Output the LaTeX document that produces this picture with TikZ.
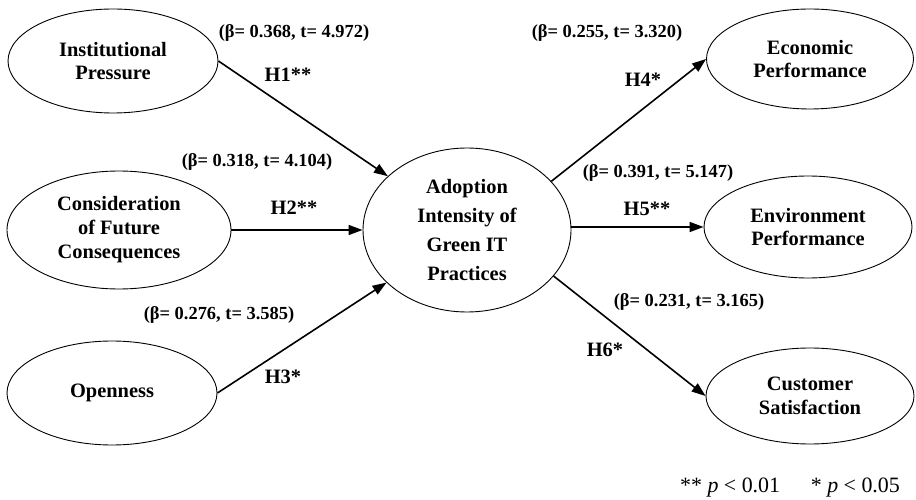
\documentclass[tikz,border=0pt]{standalone}
\usepackage{fontspec}
\setmainfont{Liberation Serif}
\usetikzlibrary{shapes.geometric,arrows.meta}
\begin{document}
\begin{tikzpicture}[x=1bp,y=-1bp,
  oval/.style={ellipse, draw, line width=0.9bp, inner sep=0pt, align=center,
    font=\bfseries\fontsize{20.5}{24}\selectfont},
  arr/.style={line width=1.6bp, -{Triangle[length=14bp,width=10bp]}},
  lab/.style={font=\bfseries\fontsize{18.5}{22}\selectfont, inner sep=0pt},
  hyp/.style={font=\bfseries\fontsize{20.5}{24}\selectfont, inner sep=0pt}]
\useasboundingbox (0,0) rectangle (916,500);
% constructs
\node[oval, minimum width=210bp, minimum height=104bp] (inst) at (113,61) {Institutional\\Pressure};
\node[oval, minimum width=224bp, minimum height=118bp] (cfc) at (119,230) {Consideration\\of Future\\Consequences};
\node[oval, minimum width=210bp, minimum height=104bp] (open) at (112,393) {Openness};
\node[oval, minimum width=208bp, minimum height=164bp, font=\bfseries\fontsize{20.5}{29}\selectfont] (adopt) at (467,230) {Adoption\\Intensity of\\Green IT\\Practices};
\node[oval, minimum width=207bp, minimum height=100bp] (econ) at (810,59) {Economic\\Performance};
\node[oval, minimum width=208bp, minimum height=102bp] (env) at (808,227) {Environment\\Performance};
\node[oval, minimum width=208bp, minimum height=96bp] (cust) at (810,396) {Customer\\Satisfaction};
% paths
\draw[arr] (inst.east) -- (adopt);
\draw[arr] (cfc.east) -- (adopt.west);
\draw[arr] (open.east) -- (adopt);
\draw[arr] (adopt.30) -- (econ.west);
\draw[arr] (adopt.east |- env.west) -- (env.west);
\draw[arr] (adopt.-28) -- (cust.west);
% labels
\node[lab] (b1) at (294,33) {(β= 0.368, t= 4.972)};
\node[hyp] (h1) at (288,75) {H1**};
\node[lab] (b2) at (257,162) {(β= 0.318, t= 4.104)};
\node[hyp] (h2) at (294,208) {H2**};
\node[lab] (b3) at (219,315) {(β= 0.276, t= 3.585)};
\node[hyp] (h3) at (283,377) {H3*};
\node[lab] (b4) at (607,33) {(β= 0.255, t= 3.320)};
\node[hyp] (h4) at (643,80) {H4*};
\node[lab] (b5) at (658,173) {(β= 0.391, t= 5.147)};
\node[hyp] (h5) at (647,209) {H5**};
\node[lab] (b6) at (689,302) {(β= 0.231, t= 3.165)};
\node[hyp] (h6) at (605,350) {H6*};
\node[font=\fontsize{22}{24}\selectfont, inner sep=0pt] (legend) at (790,488) {** \textit{p} < 0.01\hspace{1.4em}* \textit{p} < 0.05};
\end{tikzpicture}
\end{document}
